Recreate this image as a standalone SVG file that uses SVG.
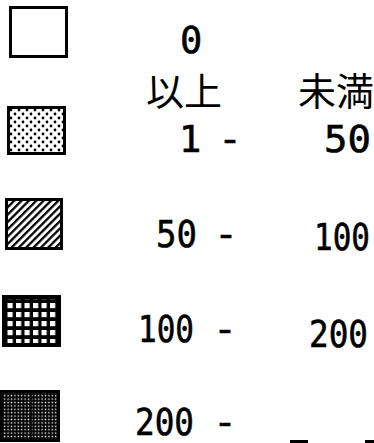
<svg xmlns="http://www.w3.org/2000/svg" width="374" height="443" viewBox="0 0 374 443">
<style>
.box{stroke:#000;stroke-width:3}
.num{font-family:"DejaVu Sans Mono","Liberation Mono",monospace;font-size:37px;fill:#000;stroke:#000;stroke-width:0.6}
.dash{font-family:"DejaVu Sans Mono","Liberation Mono",monospace;font-size:37px;fill:#000;stroke:#000;stroke-width:0.6}
.cjk{font-family:"Liberation Sans","Noto Sans CJK JP",sans-serif;font-size:38px;fill:#000}
</style>
<defs>
<pattern id="dots" patternUnits="userSpaceOnUse" x="9" y="108" width="8" height="8">
<circle cx="2" cy="2" r="1.4" fill="#000"/>
<circle cx="6" cy="6" r="1.4" fill="#000"/>
</pattern>
<pattern id="hatch" patternUnits="userSpaceOnUse" width="5.2" height="5.2" patternTransform="rotate(45)">
<rect x="0" y="0" width="2.3" height="5.2" fill="#000"/>
</pattern>
<pattern id="grid" patternUnits="userSpaceOnUse" x="7.5" y="303" width="8.5" height="9">
<rect x="0" y="0" width="5.2" height="5.2" fill="#fff"/>
</pattern>
<pattern id="dense" patternUnits="userSpaceOnUse" width="3.4" height="3.4">
<rect width="3.4" height="3.4" fill="#000"/>
<rect x="0.6" y="0.6" width="1.4" height="1.4" fill="#fff"/>
</pattern>
</defs>

<g id="item0">
<rect class="box" x="10.5" y="7.5" width="56" height="49" fill="#fff"/>
<text class="num" x="180" y="53">0</text>
</g>

<g id="header">
<text class="cjk" x="146" y="105">以上</text>
<text class="cjk" x="298" y="105">未満</text>
</g>

<g id="item1">
<rect class="box" x="8.5" y="107.5" width="56" height="46" fill="#fff"/>
<rect x="10" y="109" width="53" height="43" fill="url(#dots)"/>
<text class="num" x="179" y="152">1</text>
<text class="dash" x="218" y="152" textLength="24" lengthAdjust="spacingAndGlyphs">-</text>
<text class="num" x="324" y="152" textLength="47" lengthAdjust="spacingAndGlyphs">50</text>
</g>

<g id="item2">
<rect class="box" x="6.5" y="199.5" width="55" height="49" fill="#fff"/>
<rect x="8" y="201" width="52" height="46" fill="url(#hatch)"/>
<text class="num" x="156" y="247" textLength="41" lengthAdjust="spacingAndGlyphs">50</text>
<text class="dash" x="214" y="247" textLength="24" lengthAdjust="spacingAndGlyphs">-</text>
<text class="num" x="314" y="250" textLength="56" lengthAdjust="spacingAndGlyphs">100</text>
</g>

<g id="item3">
<rect x="2" y="295" width="59" height="52" fill="#000"/>
<rect x="5" y="299" width="53" height="44" fill="url(#grid)"/>
<text class="num" x="138" y="342" textLength="56" lengthAdjust="spacingAndGlyphs">100</text>
<text class="dash" x="213" y="342" textLength="24" lengthAdjust="spacingAndGlyphs">-</text>
<text class="num" x="309" y="347" textLength="59" lengthAdjust="spacingAndGlyphs">200</text>
</g>

<g id="item4">
<rect class="box" x="1.5" y="391.5" width="57" height="49" fill="url(#dense)"/>
<line x1="31" y1="392" x2="31" y2="440" stroke="#000" stroke-width="1.5"/>
<text class="num" x="135" y="435" textLength="59" lengthAdjust="spacingAndGlyphs">200</text>
<text class="dash" x="213" y="435" textLength="24" lengthAdjust="spacingAndGlyphs">-</text>
</g>

<g id="cutoff">
<rect x="290" y="440" width="18" height="3" fill="#000"/>
<rect x="365" y="440" width="9" height="3" fill="#000"/>
</g>
</svg>
